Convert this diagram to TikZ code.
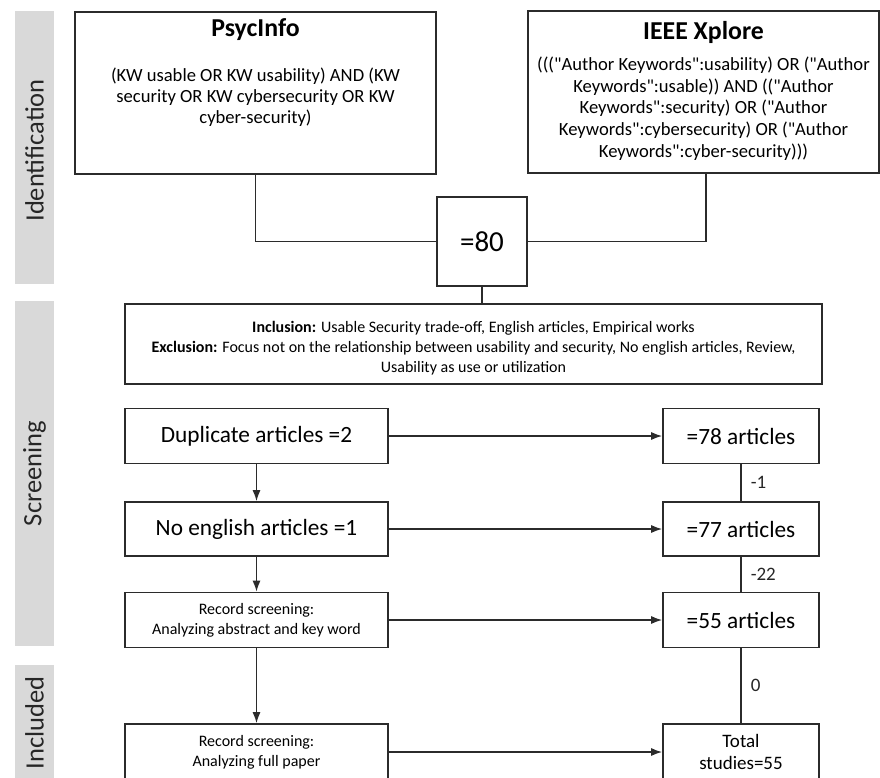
\documentclass[tikz,border=0pt]{standalone}
\usepackage{fontspec}
\setmainfont{Carlito}
\newfontfamily\ieeefont{Carlito}[Ligatures=TeXOff]
\usetikzlibrary{arrows.meta}
\definecolor{barfill}{HTML}{D9D9D9}
\definecolor{lineclr}{HTML}{2B2B2B}
\begin{document}
\begin{tikzpicture}[x=1pt,y=-1pt,
  box/.style={draw=lineclr,line width=1.6pt,rectangle,inner sep=0pt,fill=white},
  bar/.style={fill=barfill,draw=none,rectangle,inner sep=0pt,minimum width=39pt},
  barlabel/.style={rotate=90,font=\fontsize{26.5}{30}\selectfont,text=black!85},
  conn/.style={draw=lineclr,line width=1.5pt},
  arr/.style={conn,-{Latex[length=11pt,width=8pt]}},
  body/.style={align=center,inner sep=0pt,text=black},
  big/.style={font=\fontsize{23.3}{27}\selectfont},
  small/.style={font=\fontsize{16}{20}\selectfont},
  delta/.style={right=9pt,inner sep=0pt,font=\fontsize{19}{22}\selectfont,text=black!85}
]
\useasboundingbox (0,0) rectangle (880,778);
% phase bars
\node[bar,minimum height=273pt] (barid) at (34.5,147.5) {};
\node[barlabel] (labid) at ([yshift=-3pt]barid.center) {Identification};
\node[bar,minimum height=345pt] (barsc) at (34.5,473.5) {};
\node[barlabel] (labsc) at (barsc.center) {Screening};
\node[bar,minimum height=116pt] (barin) at (34.5,723) {};
\node[barlabel] (labin) at (barin.center) {Included};

% identification boxes
\node[box,minimum width=361pt,minimum height=162pt] (psyc) at (255.5,93) {};
\node[body,font=\fontsize{25.8}{30}\selectfont\bfseries] (psyct) at (255.5,30) {PsycInfo};
\node[body,font=\fontsize{18.6}{21.2}\selectfont] (psycb) at (255.5,97) {(KW usable OR KW usability) AND (KW\\security OR KW cybersecurity OR KW\\cyber-security)};

\node[box,minimum width=351pt,minimum height=162pt] (ieee) at (703.5,92) {};
\node[body,font=\fontsize{25.8}{30}\selectfont\bfseries] (ieeet) at (703.5,32) {IEEE Xplore};
\node[body,font=\ieeefont\fontsize{18.6}{21.7}\selectfont] (ieeeb) at (703.5,108.5) {((("Author Keywords":usability) OR ("Author\\Keywords":usable)) AND (("Author\\Keywords":security) OR ("Author\\Keywords":cybersecurity) OR ("Author\\Keywords":cyber-security)))};

\node[box,minimum width=90pt,minimum height=89pt,font=\fontsize{29}{32}\selectfont] (n80) at (482,241.5) {=80};

\draw[conn] (psyc.south) |- (n80.west);
\draw[conn] ([xshift=2.5pt]ieee.south) |- (n80.east);

% criteria
\node[box,minimum width=697pt,minimum height=80pt] (incl) at (473.5,344) {};
\node[body,font=\fontsize{16}{20}\selectfont] (inclt) at (473.5,348) {\textbf{Inclusion:} Usable Security trade-off, English articles, Empirical works\\\textbf{Exclusion:} Focus not on the relationship between usability and security, No english articles, Review,\\Usability as use or utilization};
\draw[conn] (n80.south) -- (n80.south |- incl.north);

% screening left
\node[box,minimum width=263pt,minimum height=55pt,big] (dup) at (256.5,436) {Duplicate articles =2};
\node[box,minimum width=263pt,minimum height=54pt,big] (noeng) at (256.5,529) {No english articles =1};
\node[box,minimum width=263pt,minimum height=55pt,align=center,small] (rs1) at (256.5,620) {Record screening:\\Analyzing abstract and key word};
\node[box,minimum width=263pt,minimum height=56pt,align=center,small] (rs2) at (256.5,752) {Record screening:\\Analyzing full paper};

% screening right
\node[box,minimum width=156pt,minimum height=55pt,big] (r78) at (741,436) {=78 articles};
\node[box,minimum width=156pt,minimum height=54pt,big] (r77) at (741,529) {=77 articles};
\node[box,minimum width=156pt,minimum height=55pt,big] (r55) at (741,620) {=55 articles};
\node[box,minimum width=156pt,minimum height=56pt,align=center,font=\fontsize{19}{22}\selectfont] (tot) at (741,752) {Total\\studies=55};

% arrows
\draw[arr] (dup.east) -- (r78.west);
\draw[arr] (noeng.east) -- (r77.west);
\draw[arr] (rs1.east) -- (r55.west);
\draw[arr] (rs2.east) -- (tot.west);
\draw[arr] (dup.south) -- (noeng.north);
\draw[arr] (noeng.south) -- (rs1.north);
\draw[arr] (rs1.south) -- (rs2.north);

\draw[conn] (r78.south) -- node[delta] (m1) {-1} (r77.north);
\draw[conn] (r77.south) -- node[delta] (m22) {-22} (r55.north);
\draw[conn] (r55.south) -- node[delta] (m0) {0} (tot.north);
\end{tikzpicture}
\end{document}
